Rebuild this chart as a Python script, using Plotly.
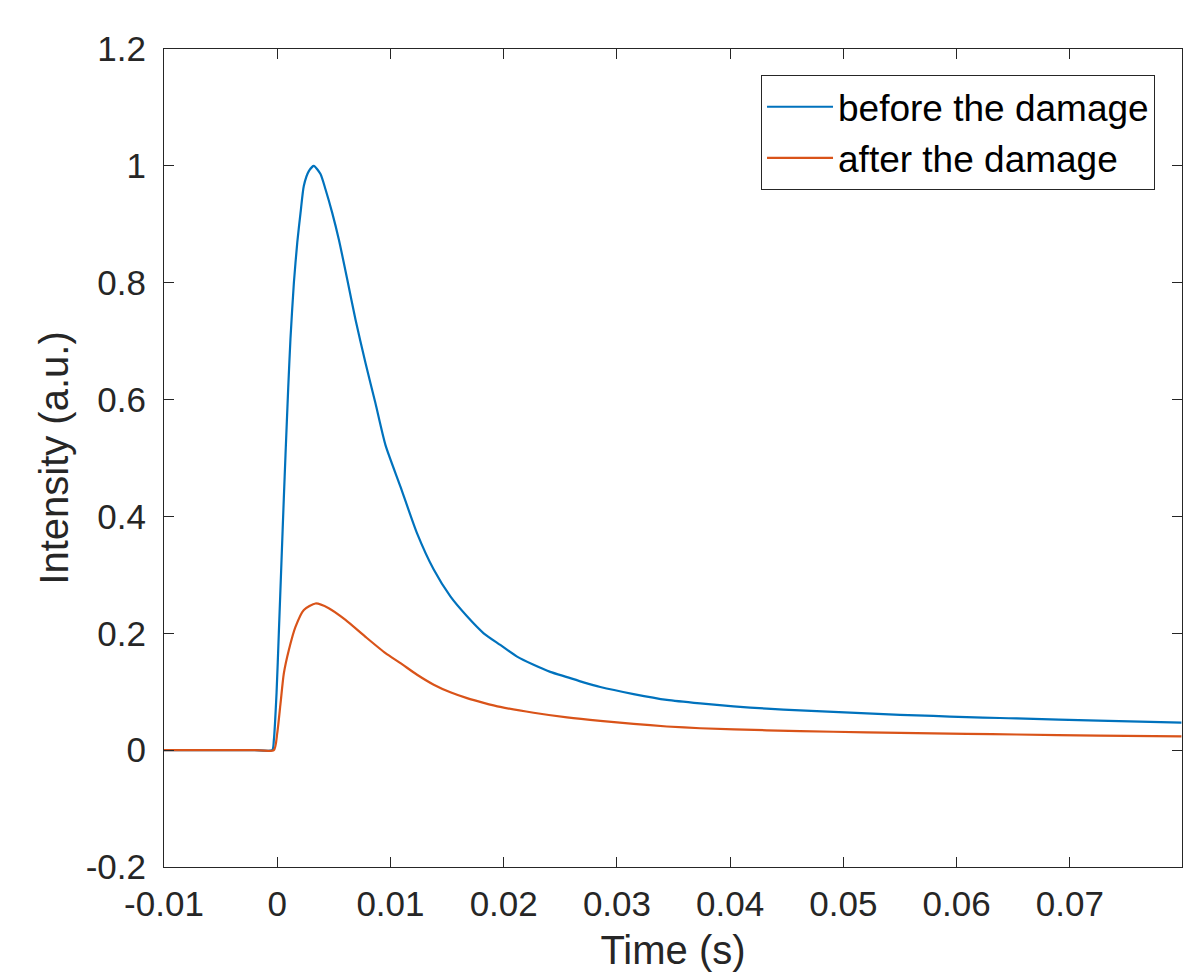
import plotly.graph_objects as go

# ---- data (time in seconds, intensity in a.u.) ----
t_before = [-0.0100, -0.0080, -0.0060, -0.0040, -0.0020, -0.00044, -0.00030, -0.00006,
            0.00014, 0.00038, 0.00058, 0.00073, 0.00097, 0.00117, 0.00147,
            0.00177, 0.00206, 0.00235, 0.00279, 0.00323, 0.00382, 0.00426, 0.00485,
            0.00544, 0.00618, 0.00691, 0.00779, 0.00867, 0.00956,
            0.01088, 0.01235, 0.01382, 0.01529, 0.01676, 0.01823,
            0.01970, 0.02118, 0.02264, 0.02411, 0.02559, 0.02705, 0.02853, 0.03147,
            0.03441, 0.03735, 0.04029, 0.04323, 0.04617, 0.04911, 0.05206, 0.05500,
            0.05793, 0.06088, 0.06382, 0.06529, 0.07250, 0.07985]
i_before = [0.000, 0.000, 0.000, 0.000, 0.000, 0.000, 0.017, 0.098,
            0.200, 0.326, 0.430, 0.505, 0.620, 0.705, 0.800,
            0.869, 0.920, 0.966, 0.991, 1.000, 0.986, 0.960, 0.920,
            0.874, 0.806, 0.737, 0.663, 0.594, 0.522,
            0.451, 0.371, 0.309, 0.263, 0.229, 0.200,
            0.180, 0.160, 0.146, 0.134, 0.125, 0.116, 0.108, 0.096,
            0.086, 0.080, 0.075, 0.071, 0.068, 0.0655, 0.063, 0.0605,
            0.0585, 0.0565, 0.055, 0.0543, 0.0505, 0.047]

t_after = [-0.0100, -0.0080, -0.0060, -0.0040, -0.0020, -0.00030, 0.00000, 0.00029,
           0.00058, 0.00102, 0.00161, 0.00235, 0.00338, 0.00455, 0.00603, 0.00779,
           0.00956, 0.01088, 0.01235, 0.01382, 0.01529, 0.01676, 0.01823, 0.01970,
           0.02264, 0.02559, 0.02853, 0.03147, 0.03441, 0.03735, 0.04323, 0.04911,
           0.05500, 0.06088, 0.06529, 0.07250, 0.07985]
i_after = [0.000, 0.000, 0.000, 0.000, 0.000, 0.000, 0.029, 0.080,
           0.131, 0.171, 0.211, 0.240, 0.251, 0.243, 0.223, 0.194,
           0.166, 0.149, 0.129, 0.112, 0.099, 0.089, 0.081, 0.074,
           0.064, 0.056, 0.050, 0.045, 0.0405, 0.0375, 0.034, 0.0315,
           0.0295, 0.0278, 0.0268, 0.025, 0.0235]

series_names = ["before the damage", "after the damage"]
series_colors = ["#0072BD", "#D95319"]

x_tick_vals = [-0.01, 0, 0.01, 0.02, 0.03, 0.04, 0.05, 0.06, 0.07]
x_tick_text = ["-0.01", "0", "0.01", "0.02", "0.03", "0.04", "0.05", "0.06", "0.07"]
y_tick_vals = [-0.2, 0, 0.2, 0.4, 0.6, 0.8, 1.0, 1.2]
y_tick_text = ["-0.2", "0", "0.2", "0.4", "0.6", "0.8", "1", "1.2"]

FONT = "Liberation Sans, Arial, Helvetica, sans-serif"
AX = "#262626"

fig = go.Figure()
fig.add_trace(go.Scatter(x=t_before, y=i_before, mode="lines", name=series_names[0],
                         line=dict(color=series_colors[0], width=2.2, shape="spline", smoothing=0.6)))
fig.add_trace(go.Scatter(x=t_after, y=i_after, mode="lines", name=series_names[1],
                         line=dict(color=series_colors[1], width=2.2, shape="spline", smoothing=0.6)))

axis_common = dict(
    showline=True, linecolor=AX, linewidth=1, mirror="ticks",
    ticks="inside", ticklen=10, tickwidth=1, tickcolor=AX,
    showgrid=False, zeroline=False,
    tickfont=dict(family=FONT, size=35, color=AX),
)

fig.update_xaxes(
    range=[-0.01, 0.0799], tickvals=x_tick_vals, ticktext=x_tick_text,
    ticklabelstandoff=6,
    title=dict(text="Time (s)", font=dict(family=FONT, size=40, color=AX), standoff=36),
    **axis_common,
)
fig.update_yaxes(
    range=[-0.2, 1.2], tickvals=y_tick_vals, ticktext=y_tick_text,
    ticklabelstandoff=10,
    title=dict(text="Intensity (a.u.)", font=dict(family=FONT, size=40, color=AX), standoff=4),
    **axis_common,
)

fig.update_layout(
    width=1183, height=972,
    margin=dict(l=164, r=1, t=49, b=105, autoexpand=False),
    plot_bgcolor="white", paper_bgcolor="white",
    showlegend=True,
    legend=dict(
        x=0.9735, y=0.968, xanchor="right", yanchor="top",
        bgcolor="white", bordercolor=AX, borderwidth=1,
        font=dict(family=FONT, size=37, color="#000000"),
        itemwidth=66,
    ),
)

fig.write_html(
    "out.html",
    config={"displayModeBar": False},
    post_script="document.body.style.margin='0';document.body.style.overflow='hidden';",
)
